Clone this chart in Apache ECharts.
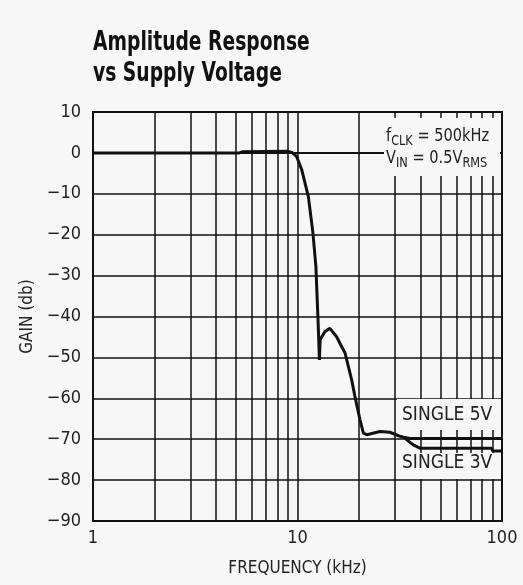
<!DOCTYPE html>
<html>
<head>
<meta charset="utf-8">
<script src="https://cdn.jsdelivr.net/npm/echarts@6/dist/echarts.min.js"></script>
<style>
  html, body { margin: 0; padding: 0; background: #f7f7f7; }
  #main { width: 523px; height: 585px; }
</style>
</head>
<body>
<div id="main"></div>
<script>
/* 数据 */
var freqShared = [1, 5.2, 5.4, 8.9, 9.4, 9.9, 10.5, 11.3, 11.9, 12.3, 12.6, 12.8, 12.9, 13.6, 14.4, 15.5, 17.1, 18.4, 19.1, 20.2, 21, 21.8, 25.3, 28.3, 31.7, 33];
var gainShared = [0, 0, 0.3, 0.4, 0.1, -0.9, -4.2, -10.7, -19.6, -27.8, -40.8, -50.6, -45.7, -43.7, -42.9, -44.9, -49, -55.5, -59.6, -65.2, -68.5, -68.9, -68.1, -68.3, -69.3, -69.5];
var freq5V = [35.5, 100];
var gain5V = [-69.8, -69.8];
var freq3V = [36.8, 39.7, 89, 90, 100];
var gain3V = [-71.4, -72.2, -72.2, -72.9, -72.9];
var gridFreqs = [2, 3, 4, 5, 6, 7, 8, 9, 20, 30, 40, 50, 60, 70, 80, 90];
var xTickLabels = [1, 10, 100];
var yTicks = [10, 0, -10, -20, -30, -40, -50, -60, -70, -80, -90];

function zip(xs, ys) {
  var out = [];
  for (var i = 0; i < xs.length; i++) out.push([xs[i], ys[i]]);
  return out;
}

var data5V = zip(freqShared, gainShared).concat(zip(freq5V, gain5V));
var data3V = zip(freqShared.slice(-1), gainShared.slice(-1)).concat(zip(freq3V, gain3V));

var FONT = "'Liberation Sans Narrow', 'DejaVu Sans Condensed', sans-serif";
var INK = '#111';
var BG = '#f7f7f7';

var myChart = echarts.init(document.getElementById('main'));

option = {
  backgroundColor: BG,
  animation: false,
  grid: {
    left: 93, top: 112, width: 409, height: 409,
    show: true,
    borderColor: INK,
    borderWidth: 2,
    backgroundColor: 'transparent'
  },
  xAxis: {
    type: 'log',
    logBase: 10,
    min: 1,
    max: 100,
    name: 'FREQUENCY (kHz)',
    nameLocation: 'middle',
    nameGap: 39,
    nameTextStyle: { color: '#222', fontFamily: FONT, fontSize: 17 },
    axisLine: { show: true, lineStyle: { color: INK, width: 2 } },
    axisTick: { show: false },
    splitLine: { show: true, lineStyle: { color: INK, width: 1.5 } },
    axisLabel: {
      color: '#222', fontFamily: FONT, fontSize: 18, margin: 8,
      formatter: function (v) { return xTickLabels.indexOf(v) >= 0 ? String(v) : ''; }
    }
  },
  yAxis: {
    type: 'value',
    min: -90,
    max: 10,
    interval: 10,
    name: 'GAIN (db)',
    nameLocation: 'middle',
    nameGap: 57,
    nameTextStyle: { color: '#222', fontFamily: FONT, fontSize: 17 },
    axisLine: { show: true, lineStyle: { color: INK, width: 2 } },
    axisTick: { show: false },
    splitLine: { show: true, lineStyle: { color: INK, width: 1.5 } },
    axisLabel: {
      color: '#222', fontFamily: FONT, fontSize: 18, margin: 12,
      formatter: function (v) { return yTicks.indexOf(v) >= 0 ? String(v).replace('-', '\u2212') : ''; }
    }
  },
  series: [
    {
      name: 'SINGLE 5V',
      type: 'line',
      symbol: 'none',
      z: 5,
      lineStyle: { color: INK, width: 3 },
      data: data5V,
      markLine: {
        silent: true,
        symbol: 'none',
        label: { show: false },
        lineStyle: { color: INK, width: 1.5, type: 'solid' },
        data: gridFreqs.map(function (f) { return { xAxis: f }; })
      }
    },
    {
      name: 'SINGLE 3V',
      type: 'line',
      symbol: 'none',
      z: 5,
      lineStyle: { color: INK, width: 3 },
      data: data3V
    }
  ],
  graphic: [
    {
      type: 'text', z: 101, x: 93, y: 28, scaleX: 0.8,
      style: {
        text: 'Amplitude Response\nvs Supply Voltage',
        fontFamily: FONT, fontWeight: 'bold', fontSize: 26, lineHeight: 31, fill: INK
      }
    },
    { type: 'rect', z: 100, shape: { x: 384, y: 118, width: 116, height: 58 }, style: { fill: BG } },
    { type: 'rect', z: 100, shape: { x: 397, y: 399, width: 104, height: 31 }, style: { fill: BG } },
    { type: 'rect', z: 100, shape: { x: 397, y: 453, width: 104, height: 26 }, style: { fill: BG } },
    {
      type: 'text', z: 101, x: 386, y: 125, scaleX: 0.9,
      style: {
        text: '{m|f}{s|CLK}{m| = 500kHz}',
        rich: {
          m: { fontFamily: FONT, fontSize: 18, fill: '#222' },
          s: { fontFamily: FONT, fontSize: 14, fill: '#222', padding: [9, 0, 0, 0] }
        }
      }
    },
    {
      type: 'text', z: 101, x: 386, y: 147, scaleX: 0.9,
      style: {
        text: '{m|V}{s|IN}{m| = 0.5V}{s|RMS}',
        rich: {
          m: { fontFamily: FONT, fontSize: 18, fill: '#222' },
          s: { fontFamily: FONT, fontSize: 14, fill: '#222', padding: [9, 0, 0, 0] }
        }
      }
    },
    {
      type: 'text', z: 101, x: 402, y: 406,
      style: { text: 'SINGLE 5V', fontFamily: FONT, fontSize: 19, fill: '#222' }
    },
    {
      type: 'text', z: 101, x: 402, y: 454,
      style: { text: 'SINGLE 3V', fontFamily: FONT, fontSize: 19, fill: '#222' }
    }
  ]
};
myChart.setOption(option);
</script>
</body>
</html>
